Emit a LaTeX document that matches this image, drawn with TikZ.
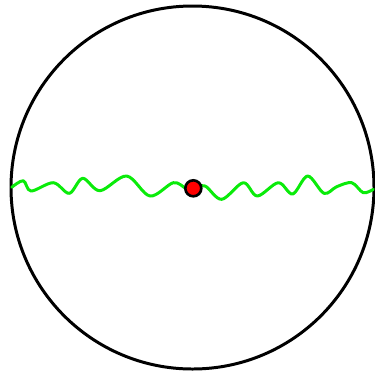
\documentclass[tikz,border=0pt]{standalone}
\usepackage{tikz}
\usetikzlibrary{positioning}
\definecolor{wavegreen}{RGB}{10,235,10}

\begin{document}
\begin{tikzpicture}[
  x=0.02cm, y=-0.02cm,
  rim/.style={draw=black, line width=1.7pt},
  wave/.style={draw=wavegreen, line width=1.7pt, line cap=round, line join=round},
  centredot/.style={circle, draw=black, line width=1.5pt, fill=red,
                    minimum size=0.32cm, inner sep=0pt},
]
\useasboundingbox (0,0) rectangle (375,370);

% ---- outer circle ----
\coordinate (mid) at (192.5,187.5);
\draw[rim] (mid) circle[radius=181.5];

% ---- wavy line through the centre ----
\draw[wave] plot[smooth, tension=0.55] coordinates {
  (11.7,187.3) (23.3,180.7) (31,191) (53.3,182.7) (69.3,193.3)
  (82.7,178.3) (100,190.7) (126.7,176) (150,196) (173.3,182.7)
  (186,188.3) (193,188.3) (205,186) (221.7,199.3) (243.3,182.7)
  (257.3,196) (278.3,182.7) (292.7,194) (307.7,176) (324,193.3)
  (336.7,186.7) (351.7,182.7) (363.3,192.7) (373.3,189.3)};

% ---- centre dot ----
\node[centredot] (dot) at (193.3,188.3) {};

\end{tikzpicture}
\end{document}
